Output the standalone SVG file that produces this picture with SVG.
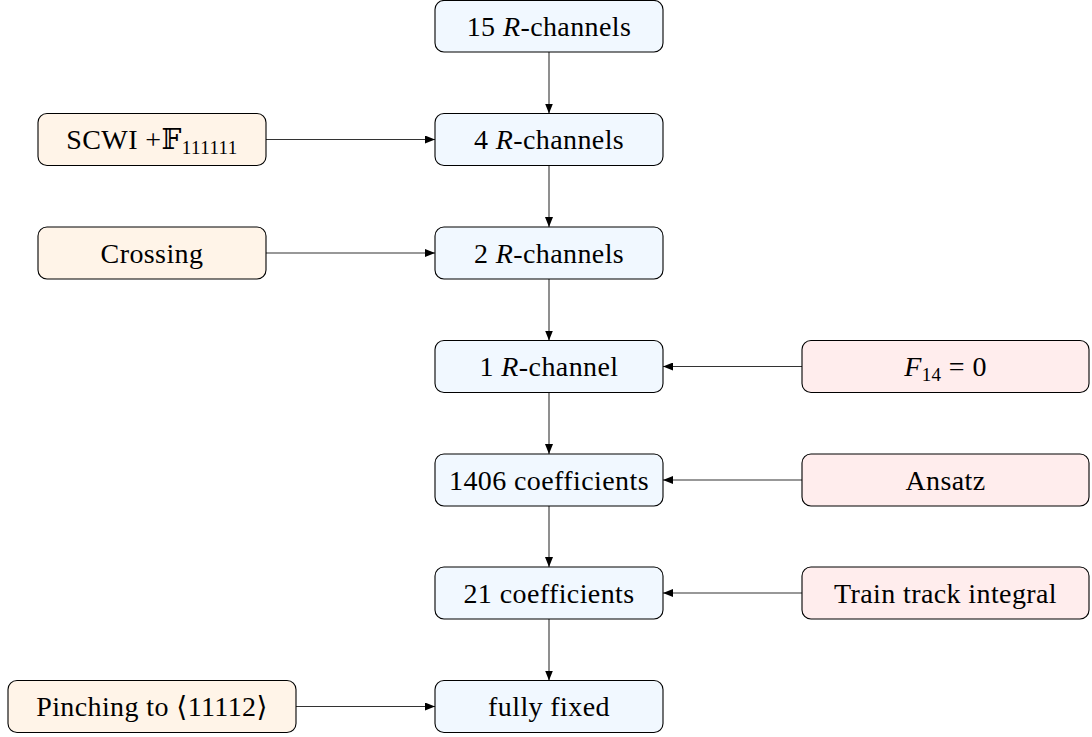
<svg xmlns="http://www.w3.org/2000/svg" width="1092" height="737" viewBox="0 0 1092 737">
<defs>
<marker id="ah" viewBox="0 0 10 8" refX="10" refY="4" markerWidth="10" markerHeight="8" markerUnits="userSpaceOnUse" orient="auto">
<path d="M0,0 L10,4 L0,8 Z" fill="#000"/>
</marker>
<style>
.c{fill:#f1f8ff;stroke:#000;stroke-width:1.1}
.l{fill:#fff4e8;stroke:#000;stroke-width:1.1}
.r{fill:#ffeded;stroke:#000;stroke-width:1.1}
text{font-size:28px;fill:#000;text-anchor:middle;letter-spacing:0.4px}
.i{font-style:italic}
.s{font-size:19px}
.e{stroke:#333;stroke-width:1.1;fill:none;marker-end:url(#ah)}
</style>
</defs>
<g id="connectors">
<line class="e" x1="549" y1="52" x2="549" y2="113.5"/>
<line class="e" x1="549" y1="165.5" x2="549" y2="227"/>
<line class="e" x1="549" y1="279" x2="549" y2="340.5"/>
<line class="e" x1="549" y1="392.5" x2="549" y2="454"/>
<line class="e" x1="549" y1="506" x2="549" y2="567"/>
<line class="e" x1="549" y1="619" x2="549" y2="680.5"/>
<line class="e" x1="266" y1="139.5" x2="435" y2="139.5"/>
<line class="e" x1="266" y1="253" x2="435" y2="253"/>
<line class="e" x1="296" y1="706.5" x2="435" y2="706.5"/>
<line class="e" x1="802" y1="366.5" x2="663" y2="366.5"/>
<line class="e" x1="802" y1="480" x2="663" y2="480"/>
<line class="e" x1="802" y1="593" x2="663" y2="593"/>
</g>
<g id="n15">
<rect class="c" x="435" y="0.5" width="228" height="51.5" rx="9"/>
<text font-family="'Liberation Serif', serif" x="549" y="35.5">15 <tspan class="i">R</tspan>-channels</text>
</g>
<g id="n4">
<rect class="c" x="435" y="113.5" width="228" height="52" rx="9"/>
<text font-family="'Liberation Serif', serif" x="549" y="149">4 <tspan class="i">R</tspan>-channels</text>
</g>
<g id="n2">
<rect class="c" x="435" y="227" width="228" height="52" rx="9"/>
<text font-family="'Liberation Serif', serif" x="549" y="262.5">2 <tspan class="i">R</tspan>-channels</text>
</g>
<g id="n1">
<rect class="c" x="435" y="340.5" width="228" height="52" rx="9"/>
<text font-family="'Liberation Serif', serif" x="549" y="376">1 <tspan class="i">R</tspan>-channel</text>
</g>
<g id="n1406">
<rect class="c" x="435" y="454" width="228" height="52" rx="9"/>
<text font-family="'Liberation Serif', serif" x="549" y="489.5">1406 coefficients</text>
</g>
<g id="n21">
<rect class="c" x="435" y="567" width="228" height="52" rx="9"/>
<text font-family="'Liberation Serif', serif" x="549" y="602.5">21 coefficients</text>
</g>
<g id="nfixed">
<rect class="c" x="435" y="680.5" width="228" height="52" rx="9"/>
<text font-family="'Liberation Serif', serif" x="549" y="716">fully fixed</text>
</g>
<g id="scwi">
<rect class="l" x="38" y="113.5" width="228" height="52" rx="9"/>
<text font-family="'Liberation Serif', serif" x="152" y="149">SCWI +<tspan font-family="'DejaVu Serif', 'DejaVu Sans', serif">𝔽</tspan><tspan class="s" dy="5">111111</tspan></text>
</g>
<g id="crossing">
<rect class="l" x="38" y="227" width="228" height="52" rx="9"/>
<text font-family="'Liberation Serif', serif" x="152" y="262.5">Crossing</text>
</g>
<g id="pinching">
<rect class="l" x="8" y="680.5" width="288" height="52" rx="9"/>
<text font-family="'Liberation Serif', serif" x="152" y="716">Pinching to <tspan font-family="'DejaVu Serif', serif">⟨</tspan>11112<tspan font-family="'DejaVu Serif', serif">⟩</tspan></text>
</g>
<g id="f14">
<rect class="r" x="802" y="340.5" width="287" height="52" rx="9"/>
<text font-family="'Liberation Serif', serif" x="945.5" y="376"><tspan class="i">F</tspan><tspan class="s" dy="5">14</tspan><tspan dy="-5"> = 0</tspan></text>
</g>
<g id="ansatz">
<rect class="r" x="802" y="454" width="287" height="52" rx="9"/>
<text font-family="'Liberation Serif', serif" x="945.5" y="489.5">Ansatz</text>
</g>
<g id="train">
<rect class="r" x="802" y="567" width="287" height="52" rx="9"/>
<text font-family="'Liberation Serif', serif" x="945.5" y="602.5">Train track integral</text>
</g>
</svg>
